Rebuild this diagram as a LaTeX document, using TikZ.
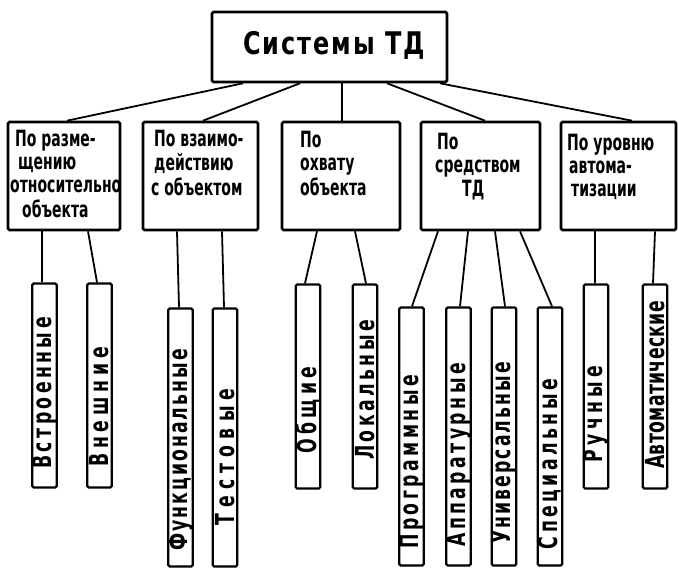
\documentclass[tikz,border=0pt]{standalone}
\usepackage{fontspec}
\usepackage{graphicx}
\setmainfont{DejaVu Sans}

% lettering: tall, heavy drafting-style text
\newcommand{\headtext}[1]{\scalebox{1}[1.3]{\fontsize{24}{24}\selectfont\bfseries\addfontfeatures{LetterSpace=8}#1}}
\newcommand{\grouptext}[1]{\scalebox{1}[1.6]{\fontsize{14}{14.3}\selectfont\bfseries\begin{tabular}[t]{@{}l@{}}#1\end{tabular}}}
\newcommand{\leaftext}[2][20]{\scalebox{1.15}[1.75]{\fontsize{15}{15}\selectfont\bfseries\addfontfeatures{LetterSpace=#1}#2}}

\begin{document}
\begin{tikzpicture}[x=1pt,y=-1pt,
  box/.style={draw, line width=2.6pt, rounded corners=1.5pt, inner sep=0pt},
  groupbox/.style={box, minimum height=108pt},
  leafbox/.style={draw, line width=2.4pt, rounded corners=1.5pt, inner sep=0pt, minimum width=24.5pt},
  shortleaf/.style={leafbox, minimum height=204pt},
  longleaf/.style={leafbox, minimum height=258pt},
  label/.style={inner sep=0pt, anchor=base west},
  vlabel/.style={inner sep=0pt, rotate=90},
  link/.style={line width=1.8pt}]

\fill[white] (0,0) rectangle (678,569);
\useasboundingbox (0,0) rectangle (678,569);

% root
\node[box, minimum width=235pt, minimum height=70pt] (root) at (329.5,47) {};
\node[label] (roottext) at (243,55) {\headtext{Системы ТД}};

% classification groups
\node[groupbox, minimum width=112pt] (g1) at (64,176) {};
\node[groupbox, minimum width=115pt] (g2) at (200.5,176) {};
\node[groupbox, minimum width=118pt] (g3) at (341,176) {};
\node[groupbox, minimum width=119pt] (g4) at (480.5,176) {};
\node[groupbox, minimum width=115pt] (g5) at (618.5,176) {};

\node[label] (g1t) at (10,147) {\grouptext{\hspace{5pt}По разме-\\\hspace{8pt}щению\\относительно\\\hspace{12pt}объекта}};
\node[label] (g2t) at (151,147) {\grouptext{\hspace{3pt}По взаимо-\\\hspace{3pt}действию\\с объектом}};
\node[label] (g3t) at (300,148) {\grouptext{По\\охвату\\объекта}};
\node[label] (g4t) at (435,150) {\grouptext{\hspace{2pt}По\\средством\\\hspace{27pt}ТД}};
\node[label] (g5t) at (567,151) {\grouptext{По уровню\\\hspace{2pt}автома-\\\hspace{4pt}тизации}};

\draw[link] ([xshift=-86.5pt]root.south) -- ([xshift=3pt]g1.north);
\draw[link] ([xshift=-29.5pt]root.south) -- ([xshift=2.5pt]g2.north);
\draw[link] ([xshift=12.5pt]root.south) -- ([xshift=1pt]g3.north);
\draw[link] ([xshift=57.5pt]root.south) -- ([xshift=4.5pt]g4.north);
\draw[link] ([xshift=110.5pt]root.south) -- ([xshift=13.5pt]g5.north);

% leaves
\node[shortleaf] (l1) at (44.5,385.5) {};
\node[shortleaf] (l2) at (99.5,385.5) {};
\node[longleaf]  (l3) at (180.5,437.5) {};
\node[longleaf]  (l4) at (225,437.5) {};
\node[shortleaf] (l5) at (308,386.5) {};
\node[shortleaf] (l6) at (365,386.5) {};
\node[longleaf]  (l7) at (411.5,436.5) {};
\node[longleaf]  (l8) at (458.5,436.5) {};
\node[longleaf]  (l9) at (504,436.5) {};
\node[longleaf]  (l10) at (550,436.5) {};
\node[shortleaf] (l11) at (596,386.5) {};
\node[shortleaf] (l12) at (655,386.5) {};

\node[vlabel] (l1t) at (44.5,393) {\leaftext{Встроенные}};
\node[vlabel] (l2t) at (99.5,407) {\leaftext[28]{Внешние}};
\node[vlabel] (l3t) at (180.5,450) {\leaftext[12]{Функциональные}};
\node[vlabel] (l4t) at (225,457) {\leaftext[36]{Тестовые}};
\node[vlabel] (l5t) at (308,410) {\leaftext[24]{Общие}};
\node[vlabel] (l6t) at (365,390) {\leaftext{Локальные}};
\node[vlabel] (l7t) at (411.5,462) {\leaftext{Программные}};
\node[vlabel] (l8t) at (458.5,455) {\leaftext{Аппаратурные}};
\node[vlabel] (l9t) at (504,453) {\leaftext[12]{Универсальные}};
\node[vlabel] (l10t) at (550,464) {\leaftext{Специальные}};
\node[vlabel] (l11t) at (596,414) {\leaftext[26]{Ручные}};
\node[vlabel] (l12t) at (655,385) {\leaftext[2]{Автоматические}};

\draw[link] ([xshift=-22pt]g1.south) -- ([xshift=-2.5pt]l1.north);
\draw[link] ([xshift=24pt]g1.south) -- ([xshift=-2.5pt]l2.north);
\draw[link] ([xshift=-23.5pt]g2.south) -- ([xshift=-1.5pt]l3.north);
\draw[link] ([xshift=21.5pt]g2.south) -- ([xshift=-1pt]l4.north);
\draw[link] ([xshift=-24pt]g3.south) -- ([xshift=-3pt]l5.north);
\draw[link] ([xshift=14pt]g3.south) -- ([xshift=1pt]l6.north);
\draw[link] ([xshift=-42.5pt]g4.south) -- ([xshift=0.5pt]l7.north);
\draw[link] ([xshift=-12.5pt]g4.south) -- ([xshift=1.5pt]l8.north);
\draw[link] ([xshift=14.5pt]g4.south) -- ([xshift=1pt]l9.north);
\draw[link] ([xshift=39.5pt]g4.south) -- ([xshift=2pt]l10.north);
\draw[link] ([xshift=-23.5pt]g5.south) -- ([xshift=-1pt]l11.north);
\draw[link] ([xshift=36.5pt]g5.south) -- ([xshift=-2pt]l12.north);

\end{tikzpicture}
\end{document}
